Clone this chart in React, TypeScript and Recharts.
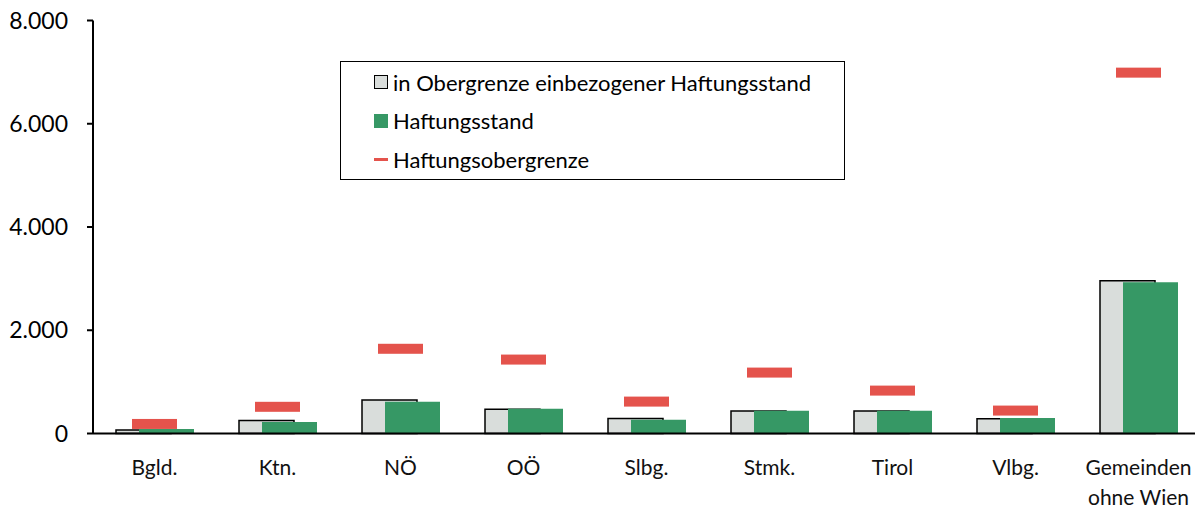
import {
  ComposedChart,
  Bar,
  Line,
  XAxis,
  YAxis,
} from "recharts";

const categories = [
  "Bgld.",
  "Ktn.",
  "NÖ",
  "OÖ",
  "Slbg.",
  "Stmk.",
  "Tirol",
  "Vlbg.",
  "Gemeinden ohne Wien",
];
const einbezogen = [70, 250, 650, 470, 290, 435, 435, 285, 2960];
const haftungsstand = [88, 225, 615, 480, 265, 440, 440, 298, 2930];
const obergrenze = [185, 517, 1641, 1432, 618, 1180, 831, 444, 6990];
const yTicks = [0, 2000, 4000, 6000, 8000];

const data = categories.map((name, i) => ({
  name,
  einbezogen: einbezogen[i],
  haftungsstand: haftungsstand[i],
  obergrenze: obergrenze[i],
}));

const FONT = "Lato, 'Noto Sans', sans-serif";
const GREY = "#d9dddb";
const GREEN = "#369865";
const RED = "#e4534c";

const fmt = (v: number) => v.toLocaleString("de-DE");

const CategoryTick = (props: any) => {
  const { x, y, payload } = props;
  const label: string = payload.value;
  const lines =
    label.length > 12
      ? [label.slice(0, label.indexOf(" ")), label.slice(label.indexOf(" ") + 1)]
      : [label];
  return (
    <text x={x} y={y + 41} textAnchor="middle" fill="#111" fontSize={21} fontFamily={FONT}>
      {lines.map((l, i) => (
        <tspan key={i} x={x} dy={i === 0 ? 0 : 30}>
          {l}
        </tspan>
      ))}
    </text>
  );
};

const LimitMark = (props: any) => {
  const { cx, cy } = props;
  if (cx == null || cy == null) return null;
  return <rect x={cx - 22.5} y={cy - 5} width={45} height={10} fill={RED} />;
};

const legendItems = [
  { label: "in Obergrenze einbezogener Haftungsstand", kind: "grey" },
  { label: "Haftungsstand", kind: "green" },
  { label: "Haftungsobergrenze", kind: "red" },
];

const LegendBox = () => (
  <div
    style={{
      position: "absolute",
      left: 340,
      top: 61,
      border: "1.5px solid #000",
      background: "#fff",
      fontFamily: FONT,
      fontSize: 22,
      color: "#000",
      padding: "1px 0 0 33px",
      boxSizing: "border-box",
      width: 505,
      height: 119,
    }}
  >
    {legendItems.map((e) => (
      <div key={e.label} style={{ display: "flex", alignItems: "center", height: 38.5 }}>
        {e.kind === "red" ? (
          <span style={{ display: "inline-block", width: 14, height: 3, background: RED, marginRight: 5 }} />
        ) : (
          <span
            style={{
              display: "inline-block",
              width: 12,
              height: 12,
              background: e.kind === "grey" ? GREY : GREEN,
              border: e.kind === "grey" ? "1px solid #000" : "1px solid " + GREEN,
              marginRight: 5,
            }}
          />
        )}
        <span>{e.label}</span>
      </div>
    ))}
  </div>
);

export default function App() {
  return (
    <div style={{ position: "relative", margin: "-8px 0 0 -8px", width: 1203, height: 509 }}>
      <ComposedChart
        width={1203}
        height={509}
        data={data}
        margin={{ top: 20.5, right: 3, bottom: 0, left: 0 }}
        barSize={55}
        barGap={-32}
      >
        <XAxis
          dataKey="name"
          axisLine={{ stroke: "#000", strokeWidth: 2 }}
          tickLine={false}
          tickSize={0}
          tickMargin={0}
          height={75.5}
          tick={<CategoryTick />}
          interval={0}
        />
        <YAxis
          width={93}
          domain={[0, 8000]}
          ticks={yTicks}
          tickFormatter={fmt}
          axisLine={{ stroke: "#000", strokeWidth: 2 }}
          tickLine={{ stroke: "#000", strokeWidth: 2 }}
          tickSize={6}
          tickMargin={19}
          tick={{ fill: "#000", fontSize: 23, fontFamily: FONT }}
        />
        <Bar
          dataKey="einbezogen"
          name="in Obergrenze einbezogener Haftungsstand"
          fill={GREY}
          stroke="#000"
          strokeWidth={1.5}
          isAnimationActive={false}
        />
        <Bar
          dataKey="haftungsstand"
          name="Haftungsstand"
          fill={GREEN}
          isAnimationActive={false}
        />
        <Line
          dataKey="obergrenze"
          name="Haftungsobergrenze"
          stroke="none"
          dot={<LimitMark />}
          activeDot={false}
          isAnimationActive={false}
        />
      </ComposedChart>
      <LegendBox />
    </div>
  );
}
